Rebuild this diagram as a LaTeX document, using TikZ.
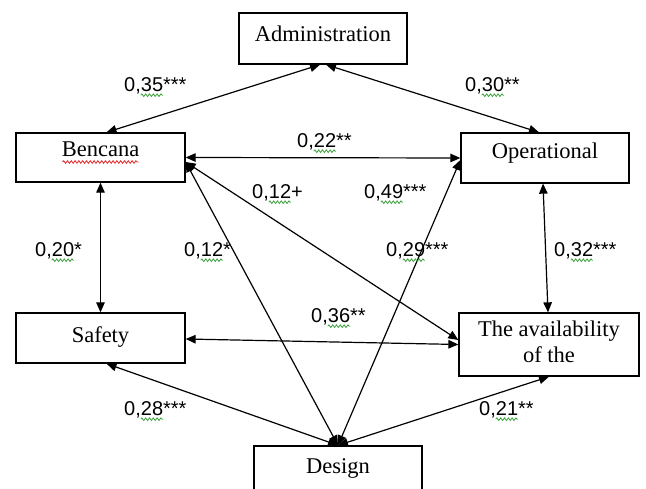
\documentclass[tikz,border=0pt]{standalone}
\usepackage{fontspec}
\setmainfont{Liberation Serif}
\newfontfamily\lblfont{Liberation Sans}
\usetikzlibrary{arrows.meta,decorations.pathmorphing}
\definecolor{wavegreen}{RGB}{60,160,60}
\definecolor{wavered}{RGB}{230,40,40}
\tikzset{
  box/.style={draw, line width=1.3pt, inner sep=0pt, minimum width=168pt,
    font=\fontsize{22.5}{26}\selectfont, align=center},
  lbl/.style={anchor=base west, inner sep=0pt, font=\lblfont\fontsize{20}{22}\selectfont},
  link/.style={{Triangle[length=10pt,width=8.5pt]}-{Triangle[length=10pt,width=8.5pt]}, line width=1.2pt},
  gwave/.style={draw=wavegreen, line width=0.8pt, decorate,
    decoration={snake, amplitude=1.3pt, segment length=3.8pt}},
  rwave/.style={gwave, draw=wavered}
}
% label: name, x, y, decimals, suffix
\newcommand\wlabel[5]{%
  \node[lbl] (#1) at (#2,#3) {0,#4#5};
  \draw[gwave] ([xshift=16.7pt,yshift=-3.2pt]#1.base west) -- ([xshift=38.9pt,yshift=-3.2pt]#1.base west);}
\begin{document}
\begin{tikzpicture}[x=1pt,y=-1pt]
\useasboundingbox[fill=white] (0,0) rectangle (646,489);
% boxes
\node[box, minimum height=51pt, text height=15pt, text depth=8pt] (adm) at (323,38.5) {Administration};
\node[box, minimum width=169pt, minimum height=49pt, text height=15pt, text depth=16pt] (ben) at (100.5,157.5) {Bencana};
\node[box, minimum height=50pt, text height=15pt, text depth=14pt] (op) at (545,158) {Operational};
\node[box, minimum width=169pt, minimum height=50pt, text height=15pt, text depth=5pt] (saf) at (100.5,338) {Safety};
\node[box, minimum width=180pt, minimum height=63pt] (av) at (549,344.5) {The availability\\of the\vphantom{g}};
\node[box, minimum height=47pt, text height=15pt, text depth=8pt] (des) at (338,469.5) {Design};
\draw[rwave] ([xshift=-38pt,yshift=-4.5pt]ben.center) -- ([xshift=38pt,yshift=-4.5pt]ben.center);
% connectors
\draw[link] ([xshift=6pt]ben.north) -- ([xshift=-3pt]adm.south);
\draw[link] ([xshift=3pt]adm.south) -- ([xshift=-6pt]op.north);
\draw[link] (ben.east) -- (op.west);
\draw[link] (ben.south) -- (saf.north);
\draw[link] ([xshift=-2pt]op.south) -- ([xshift=-1pt]av.north);
\draw[link] ([yshift=-1pt]saf.east) -- (av.west);
\draw[link] ([yshift=-4.5pt]ben.east) -- ([yshift=4.5pt]av.west);
\draw[link] ([yshift=-4.5pt]ben.east) -- (des.north);
\draw[link] ([yshift=-2pt]op.west) -- (des.north);
\draw[link] ([xshift=6pt]saf.south) -- (des.north);
\draw[link] (av.south) -- (des.north);
% labels
\wlabel{l1}{124}{92}{35}{***}
\wlabel{l2}{465}{92}{30}{**}
\wlabel{l3}{297}{148}{22}{**}
\wlabel{l4}{252}{199}{12}{+}
\wlabel{l5}{364}{199}{49}{***}
\wlabel{l6}{35}{257}{20}{*}
\wlabel{l7}{184}{257}{12}{*}
\wlabel{l8}{386}{257}{29}{***}
\wlabel{l9}{554}{257}{32}{***}
\wlabel{l10}{311}{323}{36}{**}
\wlabel{l11}{124}{416}{28}{***}
\wlabel{l12}{479}{416}{21}{**}
\end{tikzpicture}
\end{document}
